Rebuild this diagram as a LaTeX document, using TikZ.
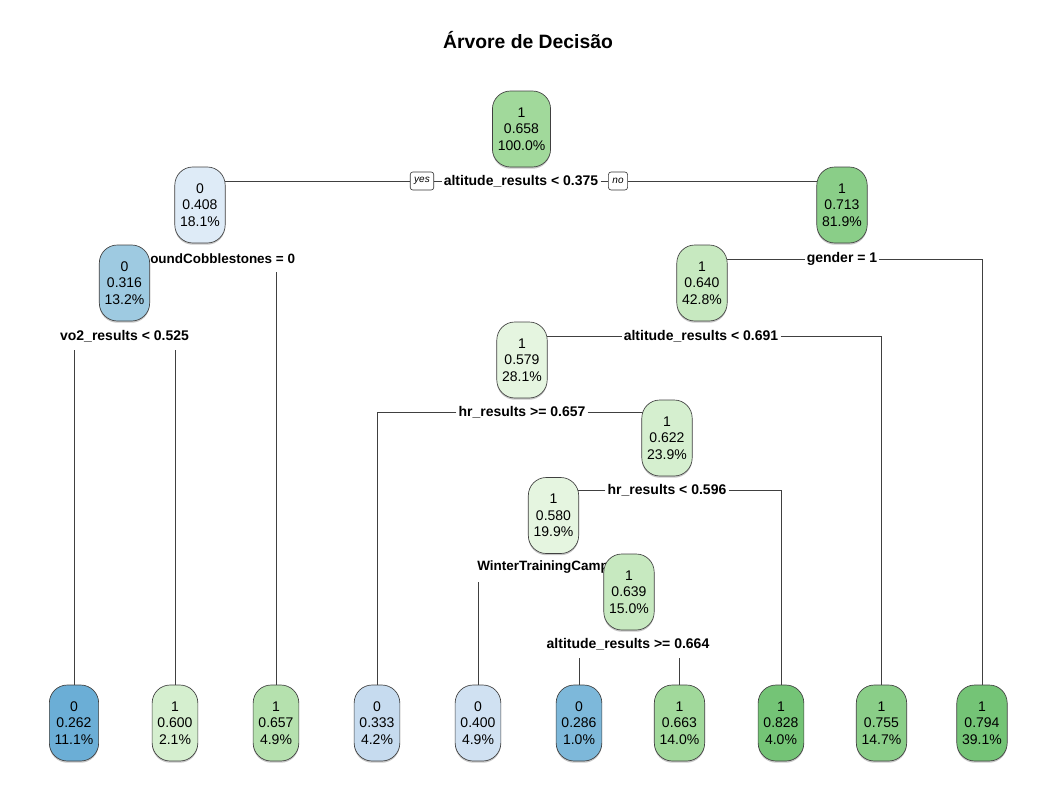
\documentclass[tikz,border=0pt]{standalone}
\usepackage{fontspec}
\setmainfont{Liberation Sans}
\usetikzlibrary{backgrounds,shadows,calc}
\definecolor{cA}{HTML}{A1D99B}
\definecolor{cB}{HTML}{DEEBF7}
\definecolor{cC}{HTML}{9ECAE1}
\definecolor{cD}{HTML}{8ACE88}
\definecolor{cE}{HTML}{C7E9C0}
\definecolor{cF}{HTML}{E5F5E0}
\definecolor{cG}{HTML}{D5EFCF}
\definecolor{lfA}{HTML}{6BAED6}
\definecolor{lfB}{HTML}{D5EFCF}
\definecolor{lfC}{HTML}{B5E1AE}
\definecolor{lfD}{HTML}{C6DBEF}
\definecolor{lfE}{HTML}{D0E1F2}
\definecolor{lfF}{HTML}{7DB8DA}
\definecolor{lfG}{HTML}{A1D99B}
\definecolor{lfH}{HTML}{74C476}
\definecolor{lfI}{HTML}{8ACE88}
\definecolor{lfJ}{HTML}{74C476}
\tikzset{
  tbox/.style={draw=black!75, line width=0.5pt, rounded corners=13.5pt, align=center,
    minimum height=57pt, inner xsep=4pt, inner ysep=2pt,
    font=\fontsize{10.5}{12.5}\selectfont,
    drop shadow={shadow xshift=0pt, shadow yshift=-1.3pt, fill=black!22, opacity=1}},
  splitlab/.style={font=\fontsize{10.5}{12.5}\selectfont\bfseries, inner sep=1.5pt},
  cutlab/.style={font=\fontsize{10.1}{12.5}\selectfont\bfseries, inner sep=1.5pt},
  yesno/.style={draw=black!80, line width=0.45pt, rounded corners=2pt, fill=white,
    font=\fontsize{7.5}{8.5}\selectfont\itshape, inner xsep=3pt, minimum height=13.5pt},
  conn/.style={draw=black!75, line width=0.6pt},
}
\begin{document}
\begin{tikzpicture}[x=0.75pt,y=-0.75pt]
\useasboundingbox (0,0) rectangle (1057,796);
\node[font=\fontsize{14.5}{16}\selectfont\bfseries] (title) at (528,40) {Árvore de Decisão};
% split labels (drawn before the boxes so boxes cover them)
\node[splitlab] (rootL) at (521,181) {altitude\_results < 0.375};
\node[yesno] (yes) at (422,181) {yes};
\node[yesno] (no) at (618,181) {no};
\node[cutlab, anchor=west] (AL) at (148,259) {oundCobblestones = 0};
\node[splitlab] (BL) at (124.5,336) {vo2\_results < 0.525};
\node[splitlab] (CL) at (842,259) {gender = 1};
\node[splitlab] (DL) at (701,336) {altitude\_results < 0.691};
\node[splitlab] (EL) at (522,412) {hr\_results >= 0.657};
\node[splitlab] (FL) at (667,490) {hr\_results < 0.596};
\node[cutlab, anchor=west] (GL) at (475,567) {WinterTrainingCamp};
\node[splitlab] (HL) at (628,644) {altitude\_results >= 0.664};
\coordinate (ALb) at (276,272);
\coordinate (BLb) at (124.5,350);
\coordinate (GLb) at (478,582);
\coordinate (HLb) at (628,658);
% inner nodes
\node[tbox, fill=cA] (R) at (521.5,129) {1\\0.658\\100.0\%};
\node[tbox, fill=cB] (A) at (200,205) {0\\0.408\\18.1\%};
\node[tbox, fill=cC] (B) at (124.5,283) {0\\0.316\\13.2\%};
\node[tbox, fill=cD] (C) at (842,205) {1\\0.713\\81.9\%};
\node[tbox, fill=cE] (D) at (702,283) {1\\0.640\\42.8\%};
\node[tbox, fill=cF] (E) at (522,360) {1\\0.579\\28.1\%};
\node[tbox, fill=cG] (F) at (667,438) {1\\0.622\\23.9\%};
\node[tbox, fill=cF] (G) at (553.5,515.5) {1\\0.580\\19.9\%};
\node[tbox, fill=cE] (H) at (629,592) {1\\0.639\\15.0\%};
% leaves
\node[tbox, fill=lfA] (L1) at (74,723) {0\\0.262\\11.1\%};
\node[tbox, fill=lfB] (L2) at (175,723) {1\\0.600\\2.1\%};
\node[tbox, fill=lfC] (L3) at (276,723) {1\\0.657\\4.9\%};
\node[tbox, fill=lfD] (L4) at (377,723) {0\\0.333\\4.2\%};
\node[tbox, fill=lfE] (L5) at (478,723) {0\\0.400\\4.9\%};
\node[tbox, fill=lfF] (L6) at (579,723) {0\\0.286\\1.0\%};
\node[tbox, fill=lfG] (L7) at (679.5,723) {1\\0.663\\14.0\%};
\node[tbox, fill=lfH] (L8) at (781,723) {1\\0.828\\4.0\%};
\node[tbox, fill=lfI] (L9) at (881.5,723) {1\\0.755\\14.7\%};
\node[tbox, fill=lfJ] (L10) at (982,723) {1\\0.794\\39.1\%};
% connectors
\begin{scope}[on background layer]
\draw[conn] (rootL.west) -- (yes.east);
\draw[conn] (yes.west) -| (A);
\draw[conn] (rootL.east) -- (no.west);
\draw[conn] (no.east) -| (C);
\draw[conn] (L3 |- ALb) -- (L3);
\draw[conn] (L1 |- BLb) -- (L1);
\draw[conn] (L2 |- BLb) -- (L2);
\draw[conn] (CL.west) -| (D);
\draw[conn] (CL.east) -| (L10);
\draw[conn] (DL.west) -| (E);
\draw[conn] (DL.east) -| (L9);
\draw[conn] (EL.west) -| (L4);
\draw[conn] (EL.east) -| (F);
\draw[conn] (FL.west) -| (G);
\draw[conn] (FL.east) -| (L8);
\draw[conn] (L5 |- GLb) -- (L5);
\draw[conn] (L6 |- HLb) -- (L6);
\draw[conn] (L7 |- HLb) -- (L7);
\end{scope}
\end{tikzpicture}
\end{document}
